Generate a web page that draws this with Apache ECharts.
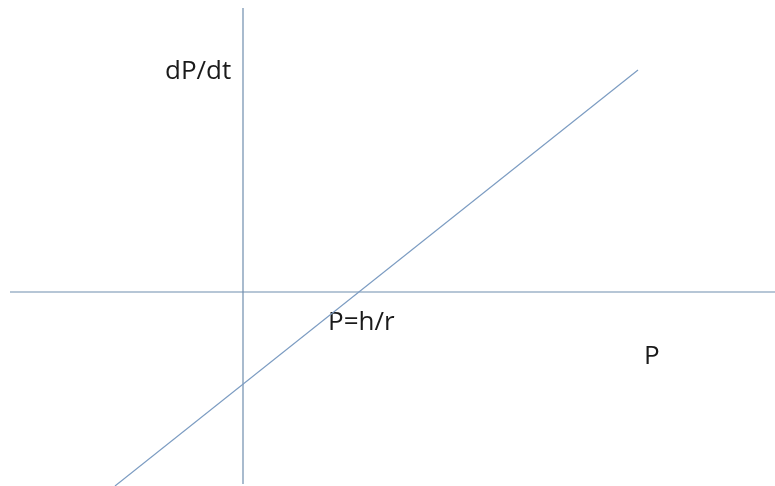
<!DOCTYPE html>
<html>
<head>
  <meta charset="UTF-8">
  <title>dP/dt vs P</title>
  <style>
    html, body { margin: 0; padding: 0; background: #ffffff; overflow: hidden; }
    #chart { width: 775px; height: 486px; }
  </style>
  <script src="https://cdn.jsdelivr.net/npm/echarts@6/dist/echarts.min.js"></script>
</head>
<body>
<div id="chart"></div>
<script>
  // P axis (horizontal) and dP/dt axis (vertical), drawn as plain lines
  var pAxisLine = [[-2.33, 0], [5.32, 0]];
  var rateAxisLine = [[0, 2.84], [0, -1.92]];
  // the dP/dt = rP - h line, crossing zero at P = h/r
  var rateLine = [[-1.28, -1.94], [3.95, 2.22]];

  var myChart = echarts.init(document.getElementById('chart'));

  var axisColor = '#6f8eae';
  var lineColor = '#7c9cc2';

  var option = {
    animation: false,
    grid: { left: 0, right: 0, top: 0, bottom: 0 },
    xAxis: { type: 'value', min: -2.43, max: 5.32, show: false },
    yAxis: { type: 'value', min: -1.94, max: 2.92, show: false },
    series: [
      {
        type: 'line', data: pAxisLine, symbol: 'none',
        lineStyle: { color: axisColor, width: 1.2 }
      },
      {
        type: 'line', data: rateAxisLine, symbol: 'none',
        lineStyle: { color: axisColor, width: 1.2 }
      },
      {
        type: 'line', data: rateLine, symbol: 'none',
        lineStyle: { color: lineColor, width: 1.2 }
      }
    ],
    graphic: [
      {
        type: 'text', left: 165, top: 59,
        style: { text: 'dP/dt', fill: '#1a1a1a', font: '26px "Open Sans"' }
      },
      {
        type: 'text', left: 328, top: 310,
        style: { text: 'P=h/r', fill: '#1a1a1a', font: '26px "Open Sans"' }
      },
      {
        type: 'text', left: 644, top: 344,
        style: { text: 'P', fill: '#1a1a1a', font: '26px "Open Sans"' }
      }
    ]
  };

  myChart.setOption(option);
</script>
</body>
</html>
